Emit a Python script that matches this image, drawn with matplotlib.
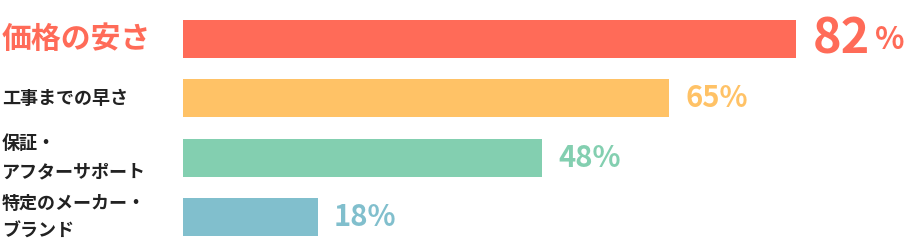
import matplotlib
matplotlib.use("Agg")
import matplotlib.pyplot as plt
import matplotlib.transforms as mtransforms

plt.rcParams['font.family'] = ['Noto Sans CJK JP', 'DejaVu Sans']

# data
labels = ["価格の安さ", "工事までの早さ", "保証・\nアフターサポート", "特定のメーカー・\nブランド"]
values = [82, 65, 48, 18]
colors = ["#FF6B58", "#FFC266", "#83CFB0", "#81BFCD"]

W, H = 907, 241
fig = plt.figure(figsize=(W / 100, H / 100), dpi=100)

# axes starts where bars start (x=183px), ~7.48px per percent
x0 = 183
px_per_pct = 7.48
ax = fig.add_axes([x0 / W, 0, 1 - x0 / W, 1])
ax.set_xlim(0, (W - x0) / px_per_pct)
# bar centres at 39, 98, 158, 217 px from top
row_px = 59.33
ax.set_ylim(3 + (H - 217) / row_px, -39 / row_px)
ax.axis("off")

ypos = list(range(len(values)))
ax.barh(ypos, values, height=38 / row_px, color=colors)

trans = mtransforms.blended_transform_factory(fig.transFigure, ax.transData)

for i, (lab, v, c) in enumerate(zip(labels, values, colors)):
    if i == 0:
        ax.text(2 / W, i, lab, transform=trans, ha="left", va="center",
                fontsize=21.5, fontweight="bold", color=c)
        t = ax.annotate(f"{v}", (v, i), xytext=(11.5, 0), textcoords="offset points",
                        ha="left", va="center", fontsize=35, fontweight="bold", color=c)
        fig.canvas.draw()
        bb = t.get_window_extent()
        ax.annotate("%", (bb.x1 / W, 0), xycoords=("figure fraction", "data"),
                    xytext=(4, -1), textcoords="offset points",
                    ha="left", va="center", fontsize=22, fontweight="bold", color=c)
    else:
        ax.text(2 / W, i, lab, transform=trans, ha="left", va="center",
                fontsize=13, fontweight="bold", color="#222222", linespacing=1.6)
        ax.annotate(f"{v}%", (v, i), xytext=(11.5, 0), textcoords="offset points",
                    ha="left", va="center", fontsize=21, fontweight="bold", color=c)

fig.savefig("out.png", dpi=100)
